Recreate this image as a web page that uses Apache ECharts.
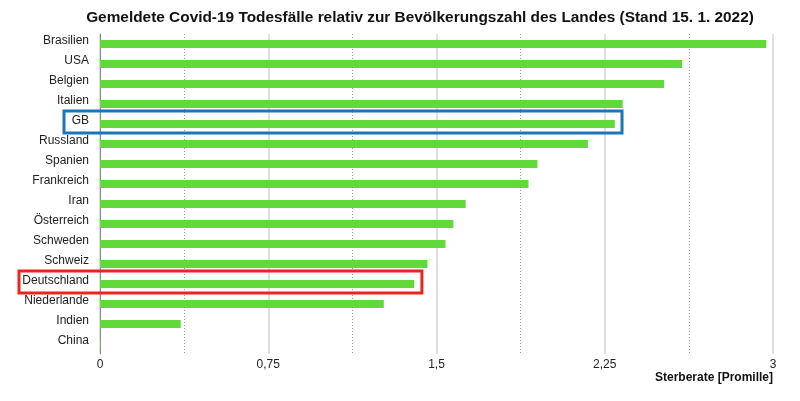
<!DOCTYPE html>
<html><head><meta charset="utf-8">
<script src="https://cdn.jsdelivr.net/npm/echarts@6/dist/echarts.min.js"></script>
<style>html,body{margin:0;padding:0;background:#fff}#c{width:800px;height:401px}</style>
</head><body><div id="c"></div>
<script>
const categories = ["Brasilien","USA","Belgien","Italien","GB","Russland","Spanien","Frankreich","Iran","Österreich","Schweden","Schweiz","Deutschland","Niederlande","Indien","China"];
const values = [2.97,2.595,2.515,2.33,2.295,2.175,1.95,1.91,1.63,1.575,1.54,1.46,1.40,1.265,0.36,0.003];
const xTicks = [0,0.75,1.5,2.25,3];
const highlights = [
  {category:"GB", color:"#1a76b9", left:64, rightValue:2.327},
  {category:"Deutschland", color:"#e8261b", left:19, rightValue:1.435}
];
const font = "'Liberation Sans', Arial, Helvetica, sans-serif";
const chart = echarts.init(document.getElementById('c'));
chart.setOption({
  animation:false,
  textStyle:{fontFamily:font},
  title:[
    {text:"Gemeldete Covid-19 Todesfälle relativ zur Bevölkerungszahl des Landes (Stand 15. 1. 2022)",
     left:420, textAlign:'center', top:10, padding:0,
     textStyle:{fontSize:15.4, fontWeight:'bold', color:'#111', fontFamily:font}},
    {text:"Sterberate [Promille]", right:27, top:372, padding:0,
     textStyle:{fontSize:12, fontWeight:'bold', color:'#111', fontFamily:font}}
  ],
  grid:{left:100, right:27, top:34, bottom:47, containLabel:false},
  xAxis:{type:'value', min:xTicks[0], max:xTicks[xTicks.length-1], interval:0.75,
    axisLine:{show:false}, axisTick:{show:false},
    axisLabel:{color:'#222', fontSize:12, margin:5, fontFamily:font,
      formatter:v=>String(v).replace('.',',')},
    splitLine:{show:true, lineStyle:{color:'#d4d4d4', width:1.5}},
    minorTick:{show:false, splitNumber:2},
    minorSplitLine:{show:true, lineStyle:{color:'#9a9a9a', type:[1,2], width:1}}
  },
  yAxis:{type:'category', inverse:true, data:categories,
    axisLine:{show:true, lineStyle:{color:'#8a8a8a', width:1}},
    axisTick:{show:false},
    axisLabel:{color:'#222', fontSize:12, margin:11, fontFamily:font, verticalAlign:'bottom', lineHeight:6}
  },
  series:[{type:'bar', data:values, barWidth:8, itemStyle:{color:'#62d93b'}, z:3}]
});
const graphics = highlights.map(h=>{
  const yc = chart.convertToPixel({yAxisIndex:0}, h.category);
  const xr = chart.convertToPixel({xAxisIndex:0}, h.rightValue);
  return {type:'rect', shape:{x:h.left, y:yc-13, width:xr-h.left, height:22},
    style:{fill:'none', stroke:h.color, lineWidth:3}, z:10};
});
chart.setOption({graphic:graphics});
</script></body></html>
